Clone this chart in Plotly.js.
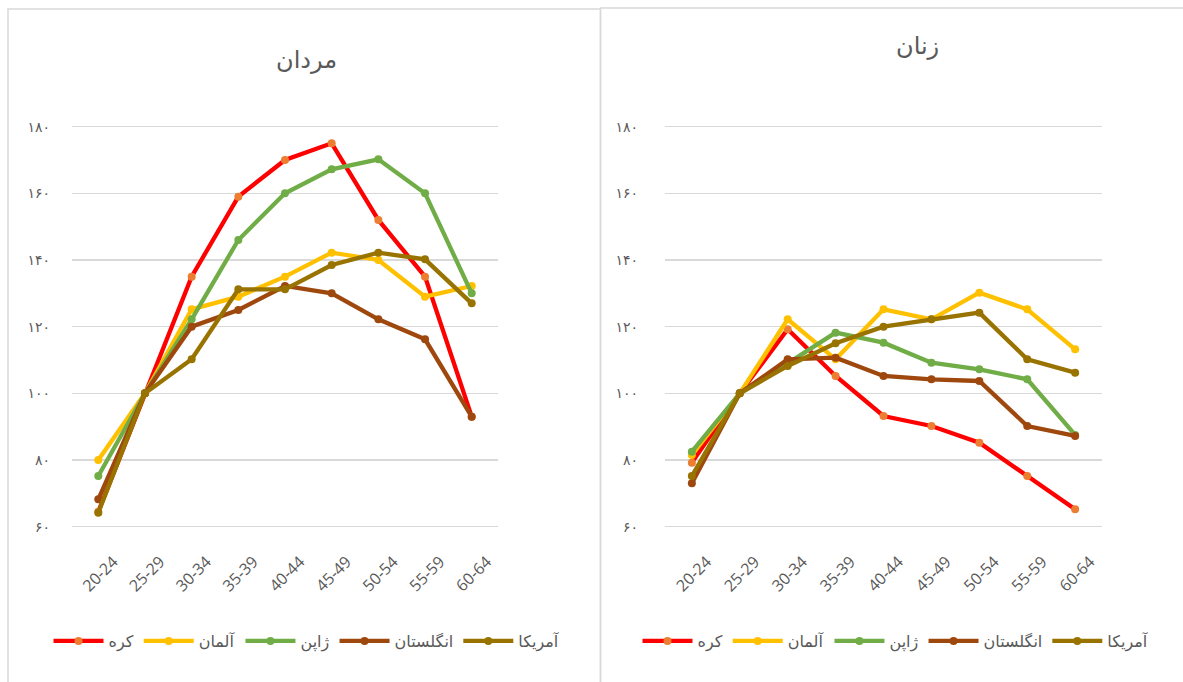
<!DOCTYPE html>
<html>
<head>
<meta charset="utf-8">
<script src="https://cdn.plot.ly/plotly-3.0.1.min.js"></script>
<style>
html,body{margin:0;padding:0;background:#fff;}
#chart{width:1183px;height:682px;}
</style>
</head>
<body>
<div id="chart"></div>
<script>
// ---- data ----
const ageGroups = ['20-24','25-29','30-34','35-39','40-44','45-49','50-54','55-59','60-64'];
const seriesNames = ['کره','آلمان','ژاپن','انگلستان','آمریکا'];
const tickValues = [60,80,100,120,140,160,180];
const tickLabels = ['۶۰','۸۰','۱۰۰','۱۲۰','۱۴۰','۱۶۰','۱۸۰'];
const titleMen = 'مردان';
const titleWomen = 'زنان';

// men
const menKorea   = [64.5, 100, 135, 159, 170, 175, 152, 135, 93];
const menGermany = [80, 100, 125.2, 129, 135, 142.2, 140, 129, 132.2];
const menJapan   = [75.2, 100, 122.2, 146, 160, 167.2, 170.2, 160, 130];
const menUK      = [68.2, 100, 120, 125, 132.2, 130, 122.2, 116.2, 93];
const menUSA     = [64.2, 100, 110.2, 131.2, 131.2, 138.5, 142.2, 140.2, 127];

// women
const womenKorea   = [79.2, 100, 119.2, 105.2, 93.2, 90.2, 85.2, 75.2, 65.2];
const womenGermany = [81.5, 100, 122.2, 110.2, 125.2, 122.2, 130.2, 125.2, 113.2];
const womenJapan   = [82.5, 100, 109, 118.2, 115.2, 109.2, 107.2, 104.2, 87.5];
const womenUK      = [73, 100, 110.2, 110.7, 105.2, 104.2, 103.7, 90.2, 87.2];
const womenUSA     = [75.2, 100, 108.2, 115, 120, 122.2, 124.2, 110.2, 106.2];

// ---- styles ----
const lineColors   = ['#FF0000','#FFC000','#70AD47','#9E480E','#997300'];
const markerColors = ['#ED7D31','#FFC000','#70AD47','#9E480E','#997300'];
const FONT = 'Open Sans, "DejaVu Sans", sans-serif';
const W = 1183, H = 682;
const px = v => v / W;
const py = v => 1 - v / H;

const menData = [menKorea, menGermany, menJapan, menUK, menUSA];
const womenData = [womenKorea, womenGermany, womenJapan, womenUK, womenUSA];

const traces = [];
menData.forEach((ys, i) => traces.push({
  type:'scatter', mode:'lines+markers', x: ageGroups, y: ys, name: seriesNames[i],
  xaxis:'x', yaxis:'y', legend:'legend',
  line:{color: lineColors[i], width:4.3},
  marker:{color: markerColors[i], size:8}
}));
womenData.forEach((ys, i) => traces.push({
  type:'scatter', mode:'lines+markers', x: ageGroups, y: ys, name: seriesNames[i],
  xaxis:'x2', yaxis:'y2', legend:'legend2',
  line:{color: lineColors[i], width:4.3},
  marker:{color: markerColors[i], size:8}
}));

const yDomain = [py(528.3), py(125)];
function yAxis(anchor, standoff){
  return {
    anchor: anchor, domain: yDomain, range:[59.5,180.5],
    tickvals: tickValues, ticktext: tickLabels,
    showgrid:true, gridcolor:'#D9D9D9', gridwidth:1.5,
    zeroline:false, showline:false, ticks:'',
    ticklabelstandoff: standoff,
    tickfont:{family:FONT, size:14, color:'#595959'},
    fixedrange:true
  };
}
function xAxis(anchor, dom){
  return {
    anchor: anchor, domain: dom, type:'category',
    showgrid:false, zeroline:false, showline:false, ticks:'',
    tickangle:-45, ticklabelstandoff: 20, ticklabelshift: 15,
    tickfont:{family:FONT, size:16, color:'#595959'},
    fixedrange:true
  };
}

const legendBase = {
  orientation:'h', yanchor:'middle', y: py(641), xanchor:'center',
  font:{family:FONT, size:16, color:'#595959'},
  bgcolor:'rgba(0,0,0,0)', itemwidth:50, tracegroupgap:0, itemclick:false
};

const layout = {
  width: W, height: H,
  margin:{l:0,r:0,t:0,b:0},
  paper_bgcolor:'#ffffff', plot_bgcolor:'rgba(0,0,0,0)',
  showlegend:true,
  xaxis: xAxis('y', [px(72), px(498)]),
  yaxis: yAxis('x', 21),
  xaxis2: xAxis('y2', [px(665), px(1102)]),
  yaxis2: yAxis('x2', 26),
  legend: Object.assign({}, legendBase, {x: px(307)}),
  legend2: Object.assign({}, legendBase, {x: px(896)}),
  annotations:[
    {text:titleMen, xref:'paper', yref:'paper', x:px(306), y:py(58), xanchor:'center', yanchor:'middle',
     showarrow:false, font:{family:FONT, size:24, color:'#595959'}},
    {text:titleWomen, xref:'paper', yref:'paper', x:px(917), y:py(45), xanchor:'center', yanchor:'middle',
     showarrow:false, font:{family:FONT, size:24, color:'#595959'}}
  ],
  shapes:[
    {type:'rect', xref:'paper', yref:'paper', x0:px(8), x1:px(600.5), y0:py(700), y1:py(9),
     line:{color:'#D9D9D9', width:1.5}, fillcolor:'rgba(0,0,0,0)', layer:'below'},
    {type:'rect', xref:'paper', yref:'paper', x0:px(600.5), x1:px(1200), y0:py(700), y1:py(8),
     line:{color:'#D9D9D9', width:1.5}, fillcolor:'rgba(0,0,0,0)', layer:'below'}
  ]
};

Plotly.newPlot('chart', traces, layout, {displayModeBar:false, staticPlot:true});
</script>
</body>
</html>
